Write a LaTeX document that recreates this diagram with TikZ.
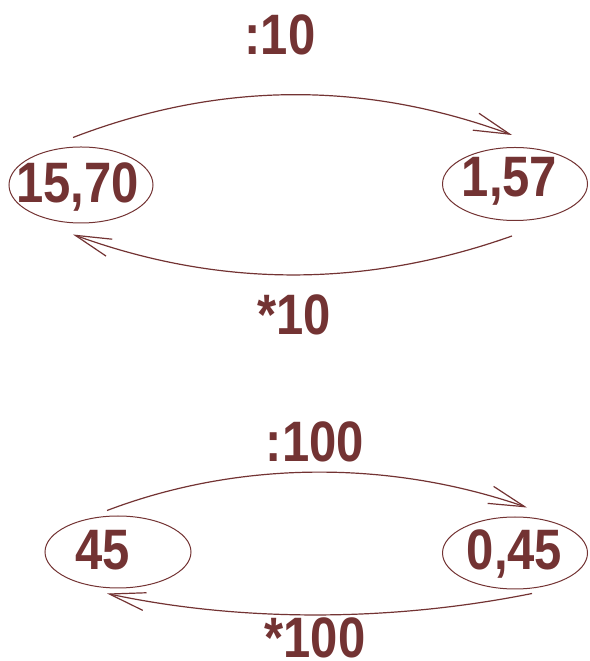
\documentclass[tikz,border=0pt]{standalone}
\usepackage{fontspec}
\setmainfont{Liberation Sans}
\newfontfamily\numfont[FakeStretch=0.86]{Liberation Sans}
\usetikzlibrary{arrows.meta,shapes.geometric}
\definecolor{maroon}{RGB}{115,51,51}
\begin{document}
\begin{tikzpicture}[x=1pt,y=1pt,
  oval/.style={draw=maroon,line width=1pt,ellipse,inner sep=0pt},
  num/.style={text=maroon,font=\numfont\fontsize{57}{62}\selectfont\bfseries,inner sep=0pt,anchor=base},
  arc/.style={draw=maroon,line width=1.2pt,-{Straight Barb[length=36pt,width=18pt,line width=1.2pt]}}]
\useasboundingbox (0,0) rectangle (589,661);
% top group
\node[oval,minimum width=144pt,minimum height=76pt] (a) at (81,476) {};
\node[oval,minimum width=145pt,minimum height=73pt] (b) at (515,477) {};
\node[num] (at) at (77.5,458) {15,70};
\node[num] (bt) at (509.5,464) {1,57};
\draw[arc] ([shift={(-8,9)}]a.north) .. controls (220,580) and (365,580) .. ([shift={(-3,12)}]b.north);
\draw[arc] ([shift={(-3,-15)}]b.south) .. controls (365,373) and (220,373) .. ([shift={(-8,-11)}]a.south);
\node[num] (l1) at (280,606) {:10};
\node[num] (l2) at (294,326) {*10};
% bottom group
\node[oval,minimum width=146pt,minimum height=72pt] (c) at (118,109) {};
\node[oval,minimum width=145pt,minimum height=72pt] (d) at (515,108) {};
\node[num] (ct) at (103,91) {45};
\node[num] (dt) at (514.5,91) {0,45};
\draw[arc] ([shift={(-11,5)}]c.north) .. controls (240,201) and (390,201) .. ([shift={(12,9)}]d.north);
\draw[arc] ([shift={(17,-4)}]d.south) .. controls (390,39) and (240,39) .. ([shift={(-11,-5)}]c.south);
\node[num] (l3) at (315,199) {:100};
\node[num] (l4) at (315,4) {*100};
\end{tikzpicture}
\end{document}
